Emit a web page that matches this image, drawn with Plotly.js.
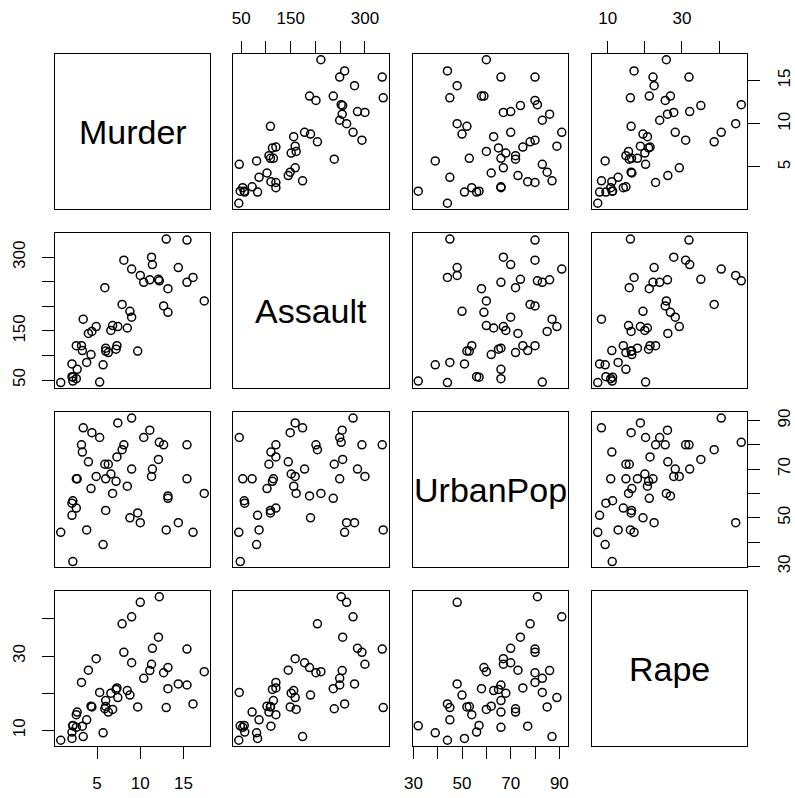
<!DOCTYPE html>
<html>
<head>
<meta charset="utf-8">
<script src="https://cdn.plot.ly/plotly-3.0.1.min.js"></script>
<style>html,body{margin:0;padding:0;background:#fff;}</style>
</head>
<body>
<div id="chart" style="width:795px;height:798px;"></div>
<script>
// USArrests data
var Murder = [13.2,10.0,8.1,8.8,9.0,7.9,3.3,5.9,15.4,17.4,5.3,2.6,10.4,7.2,2.2,6.0,9.7,15.4,2.1,11.3,4.4,12.1,2.7,16.1,9.0,6.0,4.3,12.2,2.1,7.4,11.4,11.1,13.0,0.8,7.3,6.6,4.9,6.3,3.4,14.4,3.8,13.2,12.7,3.2,2.2,8.5,4.0,5.7,2.6,6.8];
var Assault = [236,263,294,190,276,204,110,238,335,211,46,120,249,113,56,115,109,249,83,300,149,255,72,259,178,109,102,252,57,159,285,254,337,45,120,151,159,106,174,279,86,188,201,120,48,156,145,81,53,161];
var UrbanPop = [58,48,80,50,91,78,77,72,80,60,83,54,83,65,57,66,52,66,51,67,85,74,66,44,70,53,62,81,56,89,70,86,45,44,75,68,67,72,87,48,45,59,80,80,32,63,73,39,66,60];
var Rape = [21.2,44.5,31.0,19.5,40.6,38.7,11.1,15.8,31.9,25.8,20.2,14.2,24.0,21.0,11.3,18.0,16.3,22.2,7.8,27.8,16.3,35.1,14.9,17.1,28.2,16.4,16.5,46.0,9.5,18.8,32.1,26.1,16.1,7.3,21.4,20.0,29.3,14.9,8.3,22.5,12.8,26.9,25.5,22.9,11.2,20.7,26.2,9.3,10.8,15.6];

var varNames = ["Murder","Assault","UrbanPop","Rape"];
var tickVals = [[5,10,15],[50,100,150,200,250,300],[30,40,50,60,70,80,90],[10,20,30,40]];
var tickText = [["5","10","15"],["50","","150","","","300"],["30","","50","","70","","90"],["10","","30",""]];

var series = [Murder, Assault, UrbanPop, Rape];

function extRange(a){
  var mn = Math.min.apply(null,a), mx = Math.max.apply(null,a);
  var d = (mx-mn)*0.04;
  return [mn-d, mx+d];
}

var W = 795, H = 798;
var colPx = [[55,210],[233,389],[412.5,567.5],[592,747]];
var rowPx = [[54,209],[233.3,388.3],[412.3,567.3],[591,746]];

var font = "Liberation Sans, Arial, Helvetica, sans-serif";
var traces = [];
var layout = {
  width: W, height: H, autosize: false,
  margin: {l:0, r:0, t:0, b:0, pad:0},
  paper_bgcolor: "#ffffff", plot_bgcolor: "#ffffff",
  showlegend: false,
  font: {family: font, size: 17, color: "#000"},
  annotations: []
};

for (var i = 0; i < 4; i++) {
  for (var j = 0; j < 4; j++) {
    var k = i*4 + j + 1;
    var xa = "x" + (k===1?"":k), ya = "y" + (k===1?"":k);
    var xKey = "xaxis" + (k===1?"":k), yKey = "yaxis" + (k===1?"":k);
    var xr = extRange(series[j]), yr = extRange(series[i]);
    if (i === j) {
      traces.push({type:"scatter", mode:"markers", x:[], y:[], xaxis:xa, yaxis:ya, hoverinfo:"skip"});
      layout.annotations.push({
        xref: xa + " domain", yref: ya + " domain", x: 0.5, y: 0.5,
        text: varNames[i], showarrow: false, xanchor: "center", yanchor: "middle",
        font: {family: font, size: 34, color: "#000"}
      });
    } else {
      traces.push({
        type: "scatter", mode: "markers", x: series[j], y: series[i],
        xaxis: xa, yaxis: ya, hoverinfo: "skip",
        marker: {symbol: "circle-open", size: 8, color: "#000", line: {width: 1.5, color: "#000"}}
      });
    }
    var xShow = (i === 3 && (j === 0 || j === 2)) || (i === 0 && (j === 1 || j === 3));
    var yShow = (j === 0 && (i === 1 || i === 3)) || (j === 3 && (i === 0 || i === 2));
    layout[xKey] = {
      domain: [colPx[j][0]/W, colPx[j][1]/W],
      range: xr, anchor: ya,
      side: (i === 0 ? "top" : "bottom"),
      showline: true, mirror: true, linecolor: "#000", linewidth: 1,
      showgrid: false, zeroline: false, fixedrange: true,
      tickmode: "array", tickvals: tickVals[j], ticktext: tickText[j],
      ticks: xShow ? "outside" : "", ticklen: 12, tickwidth: 1, tickcolor: "#000",
      showticklabels: xShow, ticklabelstandoff: 10,
      tickfont: {family: font, size: 17, color: "#000"}
    };
    layout[yKey] = {
      domain: [1 - rowPx[i][1]/H, 1 - rowPx[i][0]/H],
      range: yr, anchor: xa,
      side: (j === 3 ? "right" : "left"),
      showline: true, mirror: true, linecolor: "#000", linewidth: 1,
      showgrid: false, zeroline: false, fixedrange: true,
      tickmode: "array", tickvals: tickVals[i], ticktext: tickText[i],
      ticks: yShow ? "outside" : "", ticklen: 12, tickwidth: 1, tickcolor: "#000",
      showticklabels: yShow, tickangle: -90, ticklabelstandoff: 10,
      tickfont: {family: font, size: 17, color: "#000"}
    };
  }
}

Plotly.newPlot("chart", traces, layout, {staticPlot: true, displayModeBar: false});
</script>
</body>
</html>
